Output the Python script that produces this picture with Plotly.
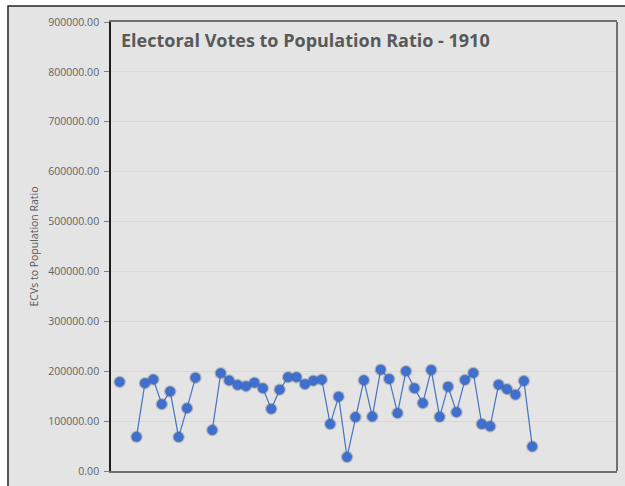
import plotly.graph_objects as go

# Electoral votes to population ratio by state, 1910 apportionment
states = [
    "Alabama", "Alaska", "Arizona", "Arkansas", "California", "Colorado",
    "Connecticut", "Delaware", "Florida", "Georgia", "Hawaii", "Idaho",
    "Illinois", "Indiana", "Iowa", "Kansas", "Kentucky", "Louisiana", "Maine",
    "Maryland", "Massachusetts", "Michigan", "Minnesota", "Mississippi",
    "Missouri", "Montana", "Nebraska", "Nevada", "New Hampshire", "New Jersey",
    "New Mexico", "New York", "North Carolina", "North Dakota", "Ohio",
    "Oklahoma", "Oregon", "Pennsylvania", "Rhode Island", "South Carolina",
    "South Dakota", "Tennessee", "Texas", "Utah", "Vermont", "Virginia",
    "Washington", "West Virginia", "Wisconsin", "Wyoming",
]
ratios = [
    178500, None, 68500, 176000, 183500, 134000,
    159500, 68000, 126000, 187000, None, 82000,
    196000, 181500, 172500, 170000, 177000, 166000, 124500,
    163000, 188000, 188000, 174000, 181000,
    183000, 94000, 149000, 28000, 108000, 182000,
    109000, 203000, 184500, 116000, 200000,
    166000, 136000, 202500, 108500, 169000,
    118000, 182500, 196500, 94000, 89500, 173000,
    164000, 153000, 180500, 49000,
]
y_ticks = [0, 100000, 200000, 300000, 400000, 500000, 600000, 700000, 800000, 900000]

BLUE = "#4472c4"
GREY_TXT = "#595959"
BG = "#e4e4e4"

fig = go.Figure()

# soft drop shadow under each marker
fig.add_trace(go.Scatter(
    x=states, y=ratios, mode="markers",
    marker=dict(size=12.5, color="rgba(40,40,40,0.22)", line=dict(width=0)),
    hoverinfo="skip", showlegend=False,
))
fig.add_trace(go.Scatter(
    x=states, y=ratios, mode="lines+markers",
    line=dict(color=BLUE, width=1.2),
    marker=dict(size=9.5, color="#3f6fcf", line=dict(width=0.5, color="#3563bb")),
    connectgaps=False, showlegend=False,
))

n = len(states)
fig.update_layout(
    width=625, height=486,
    margin=dict(l=111, r=8, t=22, b=13),
    paper_bgcolor="white",
    plot_bgcolor=BG,
    font=dict(family="Open Sans", color=GREY_TXT),
    xaxis=dict(
        type="category", range=[-1.03, n + 9.06],
        showticklabels=False, ticks="", showgrid=False, zeroline=False,
        showline=True, linecolor="#6f6f6f", linewidth=2, mirror=True,
    ),
    yaxis=dict(
        range=[0, 900000], tickvals=y_ticks, tickformat=".2f",
        ticks="outside", ticklen=5, tickcolor="#7f7f7f", tickwidth=1,
        tickfont=dict(size=10.5, color="#636363", family="Open Sans"),
        ticklabelstandoff=3,
        showgrid=True, gridcolor="#d8d8d8", gridwidth=1, zeroline=False,
        showline=True, linecolor="#1e1e1e", linewidth=1.5,
        title=dict(text="ECVs to Population Ratio",
                   font=dict(size=10.5, color=GREY_TXT, family="Open Sans"),
                   standoff=8),
    ),
    shapes=[
        # outer chart frame
        dict(type="rect", xref="paper", yref="paper",
             x0=(8 - 111) / 506, x1=1.2, y0=-0.2, y1=(473 - 6) / 451,
             line=dict(color="#222222", width=1.5), fillcolor=BG, layer="below"),
        # right edge of the plot area
        dict(type="line", xref="paper", yref="paper",
             x0=1, x1=1, y0=0, y1=1,
             line=dict(color="#6f6f6f", width=2), layer="above"),
    ],
    annotations=[
        dict(text="<b>Electoral Votes to Population Ratio - 1910</b>",
             xref="paper", yref="paper", x=(119 - 111) / 506, y=(473 - 40) / 451,
             xanchor="left", yanchor="middle", showarrow=False,
             font=dict(size=18, color=GREY_TXT, family="Open Sans")),
    ],
)

fig.write_html("out.html")
